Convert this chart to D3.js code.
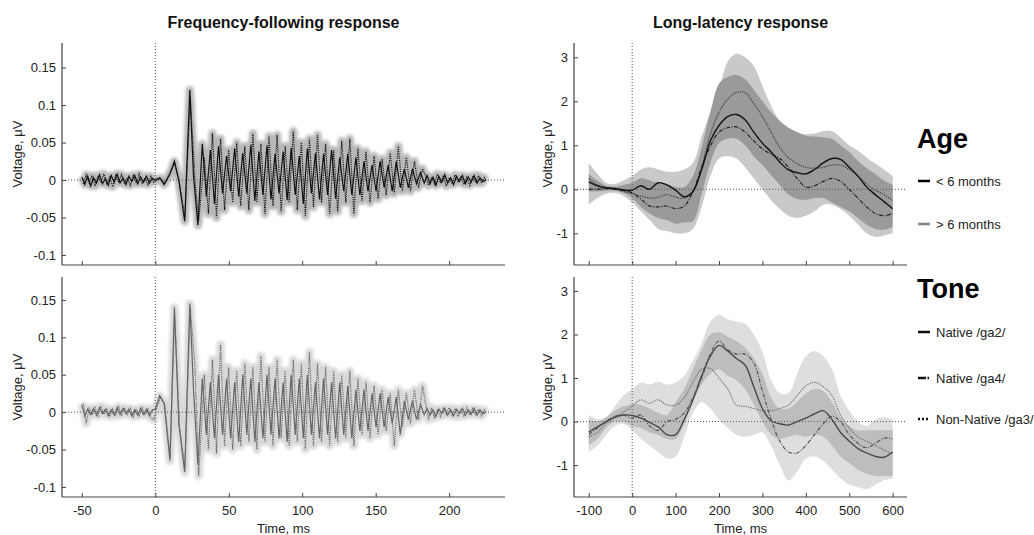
<!DOCTYPE html>
<html>
<head>
<meta charset="utf-8">
<script src="https://cdn.jsdelivr.net/npm/d3@7"></script>
<style>
body { margin: 0; background: #fff; }
text { font-family: "Liberation Sans", Arial, sans-serif; }
</style>
</head>
<body>
<svg id="chart" width="1034" height="535"></svg>
<script>
// ---- FFR data (extrema of the averaged waveforms, ms / uV) ----
var ffrTime = [-50,-48,-46,-44,-42,-40,-38,-36,-34,-32,-30,-28,-26,-24,-22,-20,-18,-16,-14,-12,-10,-8,-6,-4,-2,0,
  3,6,10,13,16,20,23.5,26,29,
  32,34.75,37.5,40.25,43,45.75,48.5,51.25,54,56.75,59.5,62.25,65,67.75,70.5,73.25,76,78.75,81.5,84.25,
  87,89.75,92.5,95.25,98,100.75,103.5,106.25,109,111.75,114.5,117.25,120,122.75,125.5,128.25,131,133.75,
  136.5,139.25,142,144.75,147.5,150.25,153,155.75,158.5,161.25,164,166.75,169.5,172.25,175,177.75,180.5,
  183,185,187,189,191,193,195,197,199,201,203,205,207,209,211,213,215,217,219,221,223,225];

// the dotted traces peak a little later than the solid ones
var ffrTimeDotted = [-49,-47,-45,-43,-41,-39,-37,-35,-33,-31,-29,-27,-25,-23,-21,-19,-17,-15,-13,-11,-9,-7,-5,-3,-1,1,
  3.5,6.5,10,13.2,16.5,20.2,23.8,27,29.5,
  33.4,36.15,38.9,41.65,44.4,47.15,49.9,52.65,55.4,58.15,60.9,63.65,66.4,69.15,71.9,74.65,77.4,80.15,82.9,85.65,
  88.4,91.15,93.9,96.65,99.4,102.15,104.9,107.65,110.4,113.15,115.9,118.65,121.4,124.15,126.9,129.65,132.4,135.15,
  137.9,140.65,143.4,146.15,148.9,151.65,154.4,157.15,159.9,162.65,165.4,168.15,170.9,173.65,176.4,179.15,181.9,
  184,186,188,190,192,194,196,198,200,202,204,206,208,210,212,214,216,218,220,222,224,225];

var ffrAgeSolid = [0.004,-0.006,0.005,-0.008,0.003,-0.004,0.007,-0.005,0.002,-0.007,0.006,-0.003,0.008,-0.004,0.003,-0.006,0.005,-0.002,0.006,-0.005,0.004,-0.003,0.005,-0.004,0.002,0.0,
  0.003,-0.006,0.008,0.025,0.0,-0.055,0.12,0.005,-0.06,
  0.048,-0.022,0.04,-0.032,0.045,-0.018,0.032,-0.015,0.042,-0.022,
  0.036,-0.018,0.047,-0.028,0.038,-0.02,0.046,-0.026,0.035,-0.018,
  0.038,-0.027,0.043,-0.02,0.032,-0.032,0.042,-0.018,0.036,-0.026,
  0.035,-0.02,0.04,-0.025,0.03,-0.015,0.035,-0.02,0.03,-0.02,
  0.025,-0.015,0.02,-0.015,0.025,-0.01,0.02,-0.015,0.025,-0.01,
  0.015,-0.01,0.015,-0.005,0.01,
  -0.004,0.006,-0.005,0.004,-0.007,0.005,-0.003,0.007,-0.004,0.003,-0.006,0.005,-0.002,0.006,-0.005,0.004,-0.003,0.006,-0.004,0.003,-0.002,0.0];

var ffrAgeDotted = [-0.005,0.007,-0.004,0.006,-0.008,0.005,-0.003,0.008,-0.006,0.004,-0.009,0.006,-0.002,0.007,-0.005,0.003,-0.007,0.006,-0.004,0.008,-0.005,0.002,-0.006,0.005,-0.003,0.0,
  0.002,-0.004,0.01,0.022,-0.005,-0.05,0.11,0.0,-0.055,
  0.03,-0.045,0.062,-0.05,0.055,-0.04,0.04,-0.03,0.05,-0.035,
  0.045,-0.04,0.062,-0.03,0.048,-0.045,0.058,-0.035,0.06,-0.042,
  0.045,-0.03,0.065,-0.04,0.05,-0.048,0.055,-0.036,0.06,-0.03,
  0.048,-0.045,0.04,-0.042,0.052,-0.03,0.055,-0.045,0.042,-0.028,
  0.038,-0.03,0.032,-0.025,0.028,-0.02,0.036,-0.018,0.045,-0.015,
  0.03,-0.015,0.025,-0.01,0.015,
  0.005,-0.007,0.004,-0.005,0.008,-0.004,0.006,-0.008,0.003,-0.005,0.007,-0.003,0.005,-0.006,0.004,-0.007,0.005,-0.003,0.006,-0.004,0.003,0.0];

var ffrToneSolid = [0.01,-0.005,0.004,-0.003,0.005,-0.004,0.006,-0.002,0.004,-0.005,0.003,-0.004,0.006,-0.003,0.005,-0.002,0.004,-0.005,0.003,-0.004,0.005,-0.003,0.004,-0.005,0.003,0.004,
  0.022,0.012,-0.065,0.14,-0.015,-0.08,0.145,0.03,-0.07,
  0.045,-0.03,0.04,-0.035,0.05,-0.03,0.045,-0.035,0.04,-0.04,
  0.05,-0.03,0.045,-0.04,0.04,-0.035,0.05,-0.03,0.045,-0.035,
  0.04,-0.04,0.05,-0.03,0.045,-0.035,0.05,-0.03,0.04,-0.035,
  0.045,-0.03,0.04,-0.035,0.04,-0.03,0.035,-0.035,0.03,-0.025,
  0.03,-0.025,0.025,-0.02,0.025,-0.02,0.02,-0.015,0.02,-0.03,
  0.015,-0.01,0.015,-0.01,0.01,
  -0.003,0.005,-0.004,0.003,-0.006,0.004,-0.002,0.005,-0.004,0.003,-0.005,0.004,-0.002,0.005,-0.004,0.003,-0.003,0.005,-0.004,0.003,-0.002,0.0];

var ffrToneDotted = [0.012,-0.015,0.005,-0.004,0.006,-0.005,0.008,-0.003,0.005,-0.006,0.004,-0.005,0.007,-0.004,0.006,-0.003,0.005,-0.006,0.004,-0.005,0.006,-0.004,0.005,-0.008,-0.01,0.005,
  0.02,0.01,-0.06,0.13,-0.02,-0.075,0.14,0.06,-0.085,
  0.05,-0.05,0.07,-0.055,0.09,-0.045,0.06,-0.05,0.055,-0.045,
  0.065,-0.04,0.06,-0.05,0.075,-0.04,0.06,-0.045,0.07,-0.035,
  0.055,-0.045,0.07,-0.04,0.065,-0.05,0.08,-0.045,0.065,-0.04,
  0.06,-0.045,0.055,-0.04,0.05,-0.035,0.055,-0.045,0.045,-0.03,
  0.04,-0.035,0.035,-0.03,0.03,-0.025,0.025,-0.045,0.03,-0.02,
  0.025,-0.015,0.03,-0.01,0.035,
  0.01,-0.01,0.006,-0.008,0.004,-0.006,0.005,-0.003,0.006,-0.004,0.005,-0.006,0.003,-0.005,0.006,-0.004,0.005,-0.003,0.004,-0.005,0.003,0.0];

// ---- LLR data (ms / uV) ----
var llrTime = [-100,-80,-60,-40,-20,0,20,40,60,80,100,120,140,160,180,200,220,240,260,280,300,320,340,360,380,400,420,440,460,480,500,520,540,560,580,600];

var llrAgeSolid = [0.17,0.08,0.03,0.02,-0.02,-0.02,0.08,0.0,0.15,0.1,-0.02,-0.17,-0.05,0.45,1.1,1.45,1.65,1.7,1.58,1.3,1.05,0.85,0.62,0.44,0.38,0.35,0.45,0.6,0.7,0.68,0.5,0.3,0.05,-0.12,-0.28,-0.44];
var llrAgeDotted = [0.25,0.1,0.05,0.02,-0.05,-0.1,-0.15,-0.2,-0.18,-0.12,-0.18,-0.2,-0.05,0.5,1.25,1.75,2.05,2.2,2.2,1.95,1.65,1.3,0.95,0.72,0.58,0.5,0.48,0.5,0.55,0.55,0.45,0.3,0.12,-0.02,-0.12,-0.25];
var llrAgeDash = [0.0,0.0,0.02,0.0,-0.02,-0.08,-0.22,-0.38,-0.4,-0.38,-0.44,-0.38,-0.05,0.5,0.98,1.3,1.4,1.42,1.3,1.1,0.92,0.8,0.7,0.5,0.25,0.05,0.08,0.18,0.25,0.18,0.0,-0.2,-0.4,-0.55,-0.6,-0.55];
var llrAgeOuterLo = [-0.35,-0.2,-0.1,-0.08,-0.15,-0.3,-0.5,-0.7,-0.9,-0.95,-1.0,-1.0,-0.9,-0.4,0.3,0.7,0.75,0.7,0.5,0.25,0.0,-0.25,-0.45,-0.6,-0.65,-0.6,-0.5,-0.35,-0.35,-0.45,-0.6,-0.8,-1.0,-1.08,-1.05,-1.0];
var llrAgeOuterHi = [0.6,0.35,0.15,0.12,0.2,0.3,0.45,0.5,0.45,0.4,0.4,0.45,0.6,1.2,1.75,2.27,2.9,3.08,3.0,2.8,2.35,1.9,1.55,1.38,1.28,1.25,1.27,1.32,1.32,1.18,1.0,0.88,0.72,0.58,0.45,0.3];
var llrAgeInnerLo = [-0.05,-0.05,-0.03,-0.03,-0.08,-0.2,-0.4,-0.55,-0.65,-0.7,-0.78,-0.75,-0.72,-0.1,0.6,1.05,1.15,1.15,1.0,0.75,0.55,0.32,0.1,-0.12,-0.22,-0.24,-0.2,-0.2,-0.3,-0.4,-0.5,-0.65,-0.8,-0.9,-0.92,-0.85];
var llrAgeInnerHi = [0.35,0.2,0.08,0.06,0.1,0.15,0.25,0.2,0.15,0.12,0.05,0.05,0.3,0.95,1.75,2.4,2.55,2.6,2.5,2.27,2.0,1.75,1.55,1.4,1.3,1.22,1.2,1.18,1.15,1.0,0.85,0.65,0.48,0.35,0.2,0.1];

var llrToneSolid = [-0.24,-0.12,0.0,0.1,0.15,0.14,0.08,-0.02,-0.12,-0.3,-0.3,0.05,0.5,1.05,1.5,1.75,1.62,1.45,1.3,0.8,0.3,0.02,-0.05,-0.08,0.0,0.08,0.18,0.25,0.05,-0.25,-0.45,-0.62,-0.72,-0.8,-0.82,-0.7];
var llrToneDash = [-0.3,-0.15,0.0,0.12,0.15,0.08,0.15,-0.1,-0.2,0.0,0.05,0.2,0.55,1.0,1.55,1.85,1.65,1.55,1.55,1.35,0.7,0.05,-0.45,-0.7,-0.72,-0.55,-0.3,-0.05,0.12,0.0,-0.3,-0.5,-0.6,-0.5,-0.38,-0.4];
var llrToneDotted = [-0.35,-0.25,-0.05,0.1,0.22,0.35,0.5,0.42,0.5,0.38,0.38,0.55,0.9,1.2,1.22,1.0,0.75,0.38,0.35,0.3,0.25,0.25,0.3,0.38,0.6,0.82,0.9,0.8,0.6,0.15,-0.15,-0.35,-0.45,-0.55,-0.65,-0.75];
var llrToneOuterLo = [-0.7,-0.55,-0.3,-0.1,-0.05,-0.2,-0.4,-0.55,-0.7,-0.85,-0.8,-0.35,0.2,0.45,0.3,0.05,-0.15,-0.3,-0.35,-0.3,-0.25,-0.55,-1.0,-1.35,-1.15,-0.85,-0.8,-0.9,-1.1,-1.3,-1.45,-1.5,-1.55,-1.45,-1.35,-1.3];
var llrToneOuterHi = [0.15,0.05,0.1,0.35,0.6,0.75,0.9,0.85,0.92,0.85,0.9,1.05,1.4,1.8,2.3,2.45,2.35,2.3,2.25,2.0,1.6,0.95,0.65,0.65,1.1,1.5,1.62,1.5,1.2,0.6,0.25,0.0,-0.1,0.05,0.1,0.05];
var llrToneInnerLo = [-0.55,-0.4,-0.15,0.0,0.0,-0.1,-0.15,-0.25,-0.3,-0.4,-0.4,-0.05,0.45,0.85,1.1,1.2,1.05,0.95,0.75,0.4,0.0,-0.3,-0.4,-0.35,-0.3,-0.35,-0.3,-0.35,-0.55,-0.8,-0.95,-1.1,-1.2,-1.25,-1.25,-1.25];
var llrToneInnerHi = [0.05,0.0,0.1,0.25,0.35,0.4,0.38,0.3,0.2,0.15,0.45,0.75,1.2,1.65,2.0,2.05,1.95,1.85,1.7,1.45,1.1,0.55,0.3,0.3,0.45,0.65,0.75,0.7,0.45,0.1,-0.1,-0.2,-0.2,-0.2,-0.2,-0.2];

// ---- ticks and labels ----
var ffrXTicks = [-50, 0, 50, 100, 150, 200];
var ffrYTicks = [-0.1, -0.05, 0, 0.05, 0.1, 0.15];
var llrXTicks = [-100, 0, 100, 200, 300, 400, 500, 600];
var llrYTicks = [-1, 0, 1, 2, 3];
var ageLabels = ["< 6 months", "> 6 months"];
var toneLabels = ["Native /ga2/", "Native /ga4/", "Non-Native /ga3/"];

var svg = d3.select("#chart");
svg.append("rect").attr("width", 1034).attr("height", 535).attr("fill", "#fff");

// soft halo for the FFR error bands
svg.append("defs").append("filter").attr("id", "soft")
    .attr("x", "-5%").attr("y", "-20%").attr("width", "110%").attr("height", "140%")
    .append("feGaussianBlur").attr("stdDeviation", 1.6);

function makePanel(box, xDomain, yDomain) {
    var x = d3.scaleLinear().domain(xDomain).range([box.left, box.right]);
    var y = d3.scaleLinear().domain(yDomain).range([box.bottom, box.top]);
    var g = svg.append("g");
    return {x: x, y: y, g: g, box: box};
}

function zeroLines(p) {
    p.g.append("line")
        .attr("x1", p.box.left).attr("x2", p.box.right)
        .attr("y1", p.y(0)).attr("y2", p.y(0))
        .attr("stroke", "#555").attr("stroke-width", 1).attr("stroke-dasharray", "1,2");
    p.g.append("line")
        .attr("x1", p.x(0)).attr("x2", p.x(0))
        .attr("y1", p.box.top).attr("y2", p.box.bottom)
        .attr("stroke", "#555").attr("stroke-width", 1).attr("stroke-dasharray", "1,2");
}

function axes(p, xTicks, yTicks, showX) {
    var fmt = function(d) { return String(d); };
    var xa = d3.axisBottom(p.x).tickValues(xTicks).tickSize(-4).tickSizeOuter(0).tickPadding(9)
        .tickFormat(showX ? fmt : function() { return ""; });
    var ya = d3.axisLeft(p.y).tickValues(yTicks).tickSize(-4).tickSizeOuter(0).tickPadding(6).tickFormat(fmt);
    var gx = p.g.append("g").attr("transform", "translate(0," + p.box.bottom + ")").call(xa);
    var gy = p.g.append("g").attr("transform", "translate(" + p.box.left + ",0)").call(ya);
    [gx, gy].forEach(function(a) {
        a.select(".domain").attr("stroke", "#444").attr("stroke-width", 1.2);
        a.selectAll(".tick line").attr("stroke", "#444");
        a.selectAll("text").attr("fill", "#222").style("font-size", "13px")
            .style("font-family", '"Liberation Sans", Arial, sans-serif');
    });
    gy.select(".domain").attr("d", "M0," + p.box.top + "V" + p.box.bottom);
    gx.select(".domain").attr("d", "M" + p.box.left + ",0H" + p.box.right);
}

function yLabel(p, xPos) {
    p.g.append("text")
        .attr("transform", "translate(" + xPos + "," + ((p.box.top + p.box.bottom) / 2) + ") rotate(-90)")
        .attr("text-anchor", "middle").attr("fill", "#222").style("font-size", "13px")
        .text("Voltage, \u03bcV");
}

function xLabel(p) {
    p.g.append("text")
        .attr("x", (p.box.left + p.box.right) / 2).attr("y", 533)
        .attr("text-anchor", "middle").attr("fill", "#222").style("font-size", "13px")
        .text("Time, ms");
}

function title(p, txt) {
    p.g.append("text")
        .attr("x", (p.box.left + p.box.right) / 2).attr("y", 28)
        .attr("text-anchor", "middle").attr("fill", "#111")
        .style("font-size", "16px").style("font-weight", "bold")
        .text(txt);
}

// ---- FFR panels ----
function drawFFR(p, solid, dotted, lineColor, bandColor) {
    var line = function(times, vals) {
        return d3.line()
            .x(function(d, i) { return p.x(times[i]); })
            .y(function(d) { return p.y(d); })(vals);
    };
    var bands = p.g.append("g").attr("filter", "url(#soft)");
    bands.append("path").attr("d", line(ffrTimeDotted, dotted)).attr("fill", "none")
        .attr("stroke", bandColor).attr("stroke-width", 8).attr("stroke-linejoin", "round");
    bands.append("path").attr("d", line(ffrTime, solid)).attr("fill", "none")
        .attr("stroke", bandColor).attr("stroke-width", 8).attr("stroke-linejoin", "round");
    zeroLines(p);
    p.g.append("path").attr("d", line(ffrTimeDotted, dotted)).attr("fill", "none")
        .attr("stroke", lineColor).attr("stroke-width", 1.2).attr("stroke-dasharray", "1.1,1.1");
    p.g.append("path").attr("d", line(ffrTime, solid)).attr("fill", "none")
        .attr("stroke", lineColor).attr("stroke-width", 1.2);
}

var ffrTop = makePanel({left: 62, right: 505, top: 43, bottom: 265}, [-63.5, 238], [-0.1133, 0.1827]);
drawFFR(ffrTop, ffrAgeSolid, ffrAgeDotted, "#111", "#b8b8b8");
axes(ffrTop, ffrXTicks, ffrYTicks, false);
yLabel(ffrTop, 22);
title(ffrTop, "Frequency-following response");

var ffrBot = makePanel({left: 62, right: 505, top: 277, bottom: 497}, [-63.5, 238], [-0.1134, 0.1806]);
drawFFR(ffrBot, ffrToneSolid, ffrToneDotted, "#666", "#d8d8d8");
axes(ffrBot, ffrXTicks, ffrYTicks, true);
yLabel(ffrBot, 22);
xLabel(ffrBot);

// ---- LLR panels ----
function drawLLR(p, outerLo, outerHi, innerLo, innerHi, outerColor, innerColor, lines) {
    var curve = d3.curveCatmullRom.alpha(0.5);
    var area = function(lo, hi) {
        return d3.area().curve(curve)
            .x(function(d, i) { return p.x(llrTime[i]); })
            .y0(function(d, i) { return p.y(lo[i]); })
            .y1(function(d, i) { return p.y(hi[i]); })(lo);
    };
    p.g.append("path").attr("d", area(outerLo, outerHi)).attr("fill", outerColor);
    p.g.append("path").attr("d", area(innerLo, innerHi)).attr("fill", innerColor);
    zeroLines(p);
    lines.forEach(function(l) {
        var path = d3.line().curve(curve)
            .x(function(d, i) { return p.x(llrTime[i]); })
            .y(function(d) { return p.y(d); });
        p.g.append("path").attr("d", path(l.values)).attr("fill", "none")
            .attr("stroke", l.color).attr("stroke-width", l.width)
            .attr("stroke-dasharray", l.dash);
    });
}

var llrTop = makePanel({left: 574, right: 907, top: 43, bottom: 265}, [-134, 633], [-1.72, 3.325]);
drawLLR(llrTop, llrAgeOuterLo, llrAgeOuterHi, llrAgeInnerLo, llrAgeInnerHi, "#c9c9c9", "#9a9a9a", [
    {values: llrAgeDash, color: "#222", width: 1.2, dash: "4,1.5,1,1.5"},
    {values: llrAgeDotted, color: "#333", width: 1.1, dash: "1.2,1.2"},
    {values: llrAgeSolid, color: "#111", width: 1.4, dash: null}
]);
axes(llrTop, llrXTicks, llrYTicks, false);
yLabel(llrTop, 552);
title(llrTop, "Long-latency response");

var llrBot = makePanel({left: 574, right: 907, top: 277, bottom: 497}, [-134, 633], [-1.732, 3.32]);
drawLLR(llrBot, llrToneOuterLo, llrToneOuterHi, llrToneInnerLo, llrToneInnerHi, "#dedede", "#bdbdbd", [
    {values: llrToneDotted, color: "#666", width: 1.1, dash: "1.2,1.2"},
    {values: llrToneDash, color: "#555", width: 1.2, dash: "4,1.5,1,1.5"},
    {values: llrToneSolid, color: "#4a4a4a", width: 1.4, dash: null}
]);
axes(llrBot, llrXTicks, llrYTicks, true);
yLabel(llrBot, 552);
xLabel(llrBot);

// ---- legends ----
var legend = svg.append("g");
legend.append("text").attr("x", 917).attr("y", 148)
    .style("font-size", "27px").style("font-weight", "bold").attr("fill", "#000").text("Age");
var ageColors = ["#000", "#808080"];
var ageY = [181, 224];
ageLabels.forEach(function(lbl, i) {
    legend.append("line").attr("x1", 918).attr("x2", 930).attr("y1", ageY[i]).attr("y2", ageY[i])
        .attr("stroke", ageColors[i]).attr("stroke-width", 2.5);
    legend.append("text").attr("x", 936).attr("y", ageY[i] + 5)
        .style("font-size", "13px").attr("fill", "#222").text(lbl);
});

legend.append("text").attr("x", 917).attr("y", 298)
    .style("font-size", "27px").style("font-weight", "bold").attr("fill", "#000").text("Tone");
var toneDash = [null, "8,1.5,1.5,1.5", "2,2"];
var toneY = [332, 378, 419];
toneLabels.forEach(function(lbl, i) {
    legend.append("line").attr("x1", 918).attr("x2", 930).attr("y1", toneY[i]).attr("y2", toneY[i])
        .attr("stroke", "#111").attr("stroke-width", 2.5).attr("stroke-dasharray", toneDash[i]);
    legend.append("text").attr("x", 936).attr("y", toneY[i] + 5)
        .style("font-size", "13px").attr("fill", "#222").text(lbl);
});
</script>
</body>
</html>
